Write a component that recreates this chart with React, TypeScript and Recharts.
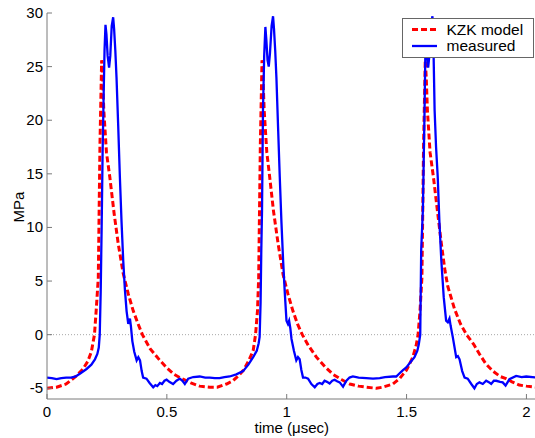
import React from 'react';
import { LineChart, Line, XAxis, YAxis, ReferenceLine, Legend } from 'recharts';

// time (µsec), pressure (MPa)
const kzkModel: [number, number][] = [
  [0, -5.0], [0.04, -4.9], [0.08, -4.6], [0.12, -3.9], [0.15, -3.2], [0.17, -2.5], [0.185, -1.6],
  [0.198, 0], [0.205, 2.2], [0.214, 5.3], [0.221, 17.8], [0.228, 25.6], [0.232, 24], [0.237, 20.9],
  [0.248, 17.0], [0.262, 14.7], [0.28, 11.3], [0.297, 8.5], [0.318, 5.7], [0.339, 3.8], [0.36, 2.2],
  [0.38, 1.0], [0.398, 0], [0.43, -1.3], [0.471, -2.4], [0.5, -3.1], [0.53, -3.7], [0.554, -4.0],
  [0.6, -4.5], [0.637, -4.8], [0.679, -4.9], [0.71, -4.9], [0.749, -4.6], [0.776, -4.3], [0.8, -3.8],
  [0.82, -3.3], [0.84, -2.5], [0.86, -1.5], [0.87, 0], [0.878, 2.2], [0.883, 5.3], [0.89, 17.8],
  [0.897, 25.6], [0.901, 24], [0.906, 20.9], [0.917, 17.0], [0.929, 14.7], [0.945, 11.5], [0.964, 8.5],
  [0.985, 5.6], [1.005, 3.8], [1.026, 2.2], [1.045, 1.0], [1.065, 0], [1.09, -1.0], [1.124, -2.1],
  [1.16, -3.0], [1.193, -3.7], [1.23, -4.2], [1.263, -4.6], [1.3, -4.8], [1.332, -4.9], [1.374, -5.0],
  [1.4, -4.9], [1.443, -4.6], [1.471, -4.1], [1.485, -3.7], [1.5, -3.3], [1.526, -2.1], [1.54, -1.0],
  [1.548, 0], [1.556, 2.2], [1.564, 5.3], [1.571, 17.8], [1.578, 25.6], [1.582, 24], [1.587, 20.9],
  [1.598, 17.0], [1.612, 14.7], [1.63, 11.3], [1.645, 8.5], [1.66, 6.0], [1.672, 4.5], [1.7, 2.4],
  [1.725, 1.0], [1.75, 0], [1.78, -0.9], [1.804, -1.8], [1.83, -2.7], [1.86, -3.4], [1.89, -3.9],
  [1.915, -4.1], [1.94, -4.4], [1.97, -4.7], [2.0, -4.8], [2.042, -4.9],
];

const measured: [number, number][] = [
  [0, -4.0], [0.02, -4.05], [0.04, -4.15], [0.06, -4.05], [0.08, -4.0], [0.1, -4.0], [0.12, -3.9],
  [0.14, -3.6], [0.165, -3.2], [0.185, -2.8], [0.2, -2.3], [0.21, -1.8], [0.216, -1.2], [0.22, 0],
  [0.224, 4], [0.228, 10], [0.232, 17], [0.236, 22], [0.24, 26.5], [0.244, 28.9], [0.248, 28],
  [0.253, 26], [0.259, 24.9], [0.264, 26], [0.27, 28.8], [0.276, 29.6], [0.28, 28.5], [0.285, 26.5],
  [0.29, 24], [0.297, 19.5], [0.304, 14.7], [0.311, 10.5], [0.318, 6.9], [0.325, 4.2], [0.332, 2.2],
  [0.339, 1.0], [0.346, 1.5], [0.35, 0.8], [0.356, -0.6], [0.364, -1.6], [0.374, -2.4], [0.381, -2.1],
  [0.388, -2.4], [0.395, -3.4], [0.401, -4.0], [0.415, -4.1], [0.428, -4.5], [0.443, -4.9], [0.452, -4.7],
  [0.46, -4.8], [0.471, -4.5], [0.48, -4.6], [0.49, -4.3], [0.499, -4.2], [0.51, -4.4], [0.526, -4.6],
  [0.54, -4.3], [0.554, -4.1], [0.565, -4.3], [0.575, -4.6], [0.589, -4.1], [0.61, -3.95], [0.637, -3.9],
  [0.66, -4.0], [0.679, -4.0], [0.7, -4.05], [0.72, -4.05], [0.74, -3.95], [0.762, -3.9], [0.79, -3.7],
  [0.818, -3.4], [0.84, -2.8], [0.86, -2.1], [0.875, -1.5], [0.883, -0.8], [0.887, -0.2], [0.891, 3],
  [0.894, 7.9], [0.897, 11.6], [0.901, 20.9], [0.906, 26], [0.911, 28.7], [0.915, 27.5], [0.92, 25.6],
  [0.925, 25.0], [0.93, 26.2], [0.937, 28.8], [0.943, 29.7], [0.947, 28.5], [0.952, 26.5], [0.957, 24],
  [0.964, 19.3], [0.971, 14.7], [0.978, 10.5], [0.985, 6.9], [0.992, 3.9], [0.999, 1.3], [1.005, 1.0],
  [1.01, 1.3], [1.015, 0.6], [1.02, -0.4], [1.03, -1.5], [1.04, -2.4], [1.047, -2.1], [1.054, -2.3],
  [1.061, -3.3], [1.068, -4.0], [1.078, -4.0], [1.089, -4.1], [1.103, -4.6], [1.117, -4.9], [1.128, -4.6],
  [1.138, -4.5], [1.148, -4.6], [1.158, -4.3], [1.168, -4.4], [1.179, -4.55], [1.19, -4.3], [1.2, -4.2],
  [1.21, -4.35], [1.221, -4.45], [1.235, -4.85], [1.249, -4.3], [1.262, -4.0], [1.276, -3.9], [1.3, -4.0],
  [1.332, -4.05], [1.36, -4.1], [1.388, -4.05], [1.41, -3.95], [1.443, -3.9], [1.457, -3.9], [1.471, -3.6],
  [1.485, -3.3], [1.499, -3.05], [1.515, -2.6], [1.533, -2.1], [1.545, -1.5], [1.551, -0.9], [1.557, 0],
  [1.561, 7.9], [1.568, 11.6], [1.575, 20.9], [1.58, 28.8], [1.585, 26.5], [1.59, 24.9], [1.595, 26],
  [1.601, 28.8], [1.608, 29.7], [1.612, 27], [1.617, 20.9], [1.623, 17.5], [1.63, 14.7], [1.637, 10.5],
  [1.645, 6.9], [1.655, 3.5], [1.665, 1.3], [1.672, 1.15], [1.679, 1.5], [1.684, 0.8], [1.693, -0.25],
  [1.707, -2.1], [1.714, -2.0], [1.721, -2.3], [1.732, -3.4], [1.742, -4.0], [1.755, -4.1], [1.77, -4.6],
  [1.783, -5.0], [1.793, -4.6], [1.804, -4.45], [1.818, -4.6], [1.832, -4.3], [1.845, -4.45], [1.853, -4.6],
  [1.864, -4.3], [1.874, -4.3], [1.89, -4.4], [1.901, -4.45], [1.913, -4.75], [1.929, -4.15], [1.957, -3.85],
  [1.98, -3.95], [1.999, -3.9], [2.042, -4.0],
];

const xTicks = [0, 0.5, 1, 1.5, 2];
const yTicks = [-5, 0, 5, 10, 15, 20, 25, 30];
const xDomain: [number, number] = [0, 2.042];
const yDomain: [number, number] = [-6, 30];

const modelData = kzkModel.map(([t, p]) => ({ t, p }));
const measuredData = measured.map(([t, p]) => ({ t, p }));

const AXIS = '#7a7a7a';
const FONT = '"Liberation Sans", Arial, Helvetica, sans-serif';
const TICK_FS = 15;

const BottomTick = (props: any) => {
  const { x, y, payload } = props;
  return (
    <g>
      <line x1={x} y1={y} x2={x} y2={y - 5} stroke={AXIS} strokeWidth={1} />
      <text x={x} y={y + 18} textAnchor="middle" fontSize={TICK_FS} fontFamily={FONT} fill="#000">
        {String(payload.value)}
      </text>
    </g>
  );
};

const TopTick = (props: any) => {
  const { x, y } = props;
  return <line x1={x} y1={y} x2={x} y2={y + 5} stroke={AXIS} strokeWidth={1} />;
};

const LeftTick = (props: any) => {
  const { x, y, payload } = props;
  return (
    <g>
      <line x1={x} y1={y} x2={x + 5} y2={y} stroke={AXIS} strokeWidth={1} />
      <text x={x - 4} y={y + 5} textAnchor="end" fontSize={TICK_FS} fontFamily={FONT} fill="#000">
        {String(payload.value)}
      </text>
    </g>
  );
};

const RightTick = (props: any) => {
  const { x, y } = props;
  return <line x1={x} y1={y} x2={x - 5} y2={y} stroke={AXIS} strokeWidth={1} />;
};

const XLabel = () => (
  <text x={291.75} y={433} textAnchor="middle" fontSize={15} fontFamily={FONT} fill="#000">
    time (μsec)
  </text>
);

const YLabel = () => (
  <text
    x={18}
    y={207}
    transform="rotate(-90, 18, 207)"
    textAnchor="middle"
    dominantBaseline="central"
    fontSize={15}
    fontFamily={FONT}
    fill="#000"
  >
    MPa
  </text>
);

const dashes = ['6 3', undefined];
const widths = [3, 2.3];

const LegendBox = (props: any) => {
  const payload = props.payload || [];
  return (
    <svg width={132} height={40} style={{ display: 'block' }}>
      <rect x={0.5} y={0.5} width={131} height={39} fill="#fff" stroke="#666" strokeWidth={1} />
      {payload.map((entry: any, i: number) => {
        const cy = 11.5 + i * 16.5;
        return (
          <g key={i}>
            <line
              x1={10}
              y1={cy}
              x2={35}
              y2={cy}
              stroke={entry.color}
              strokeWidth={widths[i]}
              strokeDasharray={dashes[i]}
            />
            <text x={44.5} y={cy + 5} fontSize={15.5} fontFamily={FONT} fill="#000">
              {entry.value}
            </text>
          </g>
        );
      })}
    </svg>
  );
};

export default function App() {
  return (
    <div
      style={{
        position: 'absolute',
        left: 0,
        top: 0,
        width: 535,
        height: 438,
        overflow: 'hidden',
        background: '#fff',
        fontFamily: FONT,
      }}
    >
      <LineChart width={540} height={438} margin={{ top: 13, right: 3.5, bottom: 0, left: 0 }}>
        <XAxis
          xAxisId="bottom"
          dataKey="t"
          type="number"
          domain={xDomain}
          ticks={xTicks}
          allowDataOverflow
          orientation="bottom"
          height={39}
          tickSize={0}
          tickMargin={0}
          tickLine={false}
          axisLine={{ stroke: AXIS }}
          tick={<BottomTick />}
          interval={0}
          label={<XLabel />}
        />
        <XAxis
          xAxisId="top"
          dataKey="t"
          type="number"
          domain={xDomain}
          ticks={xTicks}
          allowDataOverflow
          orientation="top"
          height={0}
          tickSize={0}
          tickMargin={0}
          tickLine={false}
          axisLine={{ stroke: AXIS }}
          tick={<TopTick />}
          interval={0}
        />
        <YAxis
          yAxisId="left"
          type="number"
          domain={yDomain}
          ticks={yTicks}
          allowDataOverflow
          orientation="left"
          width={47}
          tickSize={0}
          tickMargin={0}
          tickLine={false}
          axisLine={{ stroke: AXIS }}
          tick={<LeftTick />}
          interval={0}
          label={<YLabel />}
        />
        <YAxis
          yAxisId="right"
          type="number"
          domain={yDomain}
          ticks={yTicks}
          allowDataOverflow
          orientation="right"
          width={0}
          tickSize={0}
          tickMargin={0}
          tickLine={false}
          axisLine={{ stroke: AXIS }}
          tick={<RightTick />}
          interval={0}
        />
        <ReferenceLine
          y={0}
          xAxisId="bottom"
          yAxisId="left"
          stroke="#a8a8a8"
          strokeDasharray="1 2"
          strokeWidth={1}
        />
        <Line
          xAxisId="bottom"
          yAxisId="left"
          data={modelData}
          dataKey="p"
          name="KZK model"
          type="linear"
          stroke="#ff0000"
          strokeWidth={3}
          strokeDasharray="6 3"
          dot={false}
          activeDot={false}
          isAnimationActive={false}
        />
        <Line
          xAxisId="bottom"
          yAxisId="left"
          data={measuredData}
          dataKey="p"
          name="measured"
          type="linear"
          stroke="#0000ff"
          strokeWidth={2.3}
          dot={false}
          activeDot={false}
          isAnimationActive={false}
        />
        <Legend
          layout="horizontal"
          verticalAlign="middle"
          align="center"
          wrapperStyle={{ left: 402, top: 18, width: 132, height: 40 }}
          content={<LegendBox />}
        />
      </LineChart>
    </div>
  );
}
